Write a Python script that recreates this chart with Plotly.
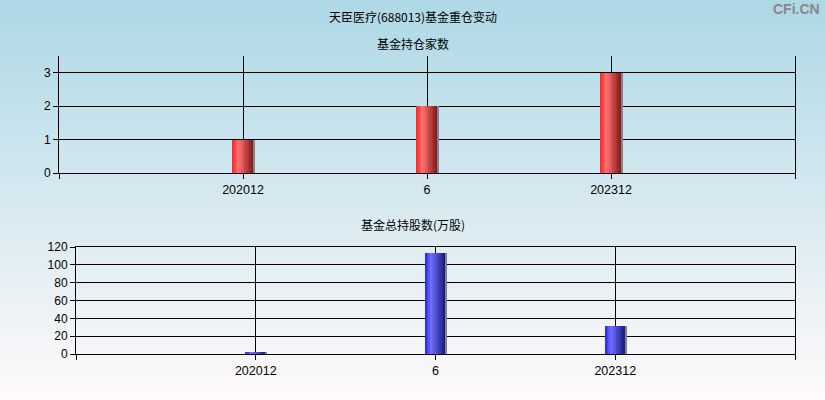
import zlib, struct, base64
import plotly.graph_objects as go

# ---- data ----
categories = ["202012", "6", "202312"]
fund_count = [1, 2, 3]
fund_shares = [1.5, 113, 31]

title_text = "天臣医疗(688013)基金重仓变动"
sub1_text = "基金持仓家数"
sub2_text = "基金总持股数(万股)"
brand_text = "CFi.CN"

W, H = 825, 400


def png_gradient(h, c_top, c_bot):
    raw = b""
    for i in range(h):
        t = i / (h - 1)
        px = bytes([round(a + (b - a) * t) for a, b in zip(c_top, c_bot)])
        raw += b"\x00" + px * 2

    def chunk(tag, data):
        c = struct.pack(">I", len(data)) + tag + data
        return c + struct.pack(">I", zlib.crc32(tag + data) & 0xFFFFFFFF)

    ihdr = struct.pack(">IIBBBBB", 2, h, 8, 2, 0, 0, 0)
    png = (b"\x89PNG\r\n\x1a\n" + chunk(b"IHDR", ihdr)
           + chunk(b"IDAT", zlib.compress(raw)) + chunk(b"IEND", b""))
    return "data:image/png;base64," + base64.b64encode(png).decode()


def mix(a, b, t):
    return tuple(round(x + (y - x) * t) for x, y in zip(a, b))


def grad_color(t, c0, c1, c2, peak=0.3):
    if t <= peak:
        return mix(c0, c1, t / peak)
    return mix(c1, c2, (t - peak) / (1 - peak))


fig = go.Figure()
xs = list(range(len(categories)))
N = 12
BW = 0.11


def add_grad_bars(yvals, xa, ya, c0, c1, c2):
    w = BW / N
    for i in range(N):
        t = (i + 0.5) / N
        col = "rgb(%d,%d,%d)" % grad_color(t, c0, c1, c2)
        fig.add_trace(go.Bar(
            x=xs, y=yvals, xaxis=xa, yaxis=ya,
            width=w * 1.15, offset=-BW / 2 + i * w,
            marker=dict(color=col, line=dict(width=0)),
            showlegend=False, hoverinfo="skip"))
    # thin shadow on right edge
    fig.add_trace(go.Bar(
        x=xs, y=yvals, xaxis=xa, yaxis=ya,
        width=0.006, offset=BW / 2,
        marker=dict(color="rgb(130,130,140)", line=dict(width=0)),
        showlegend=False, hoverinfo="skip"))


add_grad_bars(fund_count, "x", "y", (255, 35, 35), (255, 112, 112), (130, 25, 25))
add_grad_bars(fund_shares, "x2", "y2", (35, 35, 255), (112, 112, 255), (25, 25, 125))

tickfont = dict(family="Liberation Sans, Arial, sans-serif", size=12.5, color="#000")
xtickvals = [-1] + xs + [len(categories)]
xticktext = [""] + categories + [""]

common_x = dict(range=[-1, len(categories)], tickvals=xtickvals, ticktext=xticktext,
                showgrid=True, gridcolor="#000", gridwidth=1,
                showline=True, linecolor="#000", linewidth=1,
                ticks="outside", ticklen=5, tickcolor="#000", automargin=False,
                tickfont=tickfont, zeroline=False, fixedrange=True)
common_y = dict(showgrid=True, gridcolor="#000", gridwidth=1,
                showline=True, linecolor="#000", linewidth=1, mirror=True,
                ticks="outside", ticklen=5, tickcolor="#000", automargin=False,
                tickfont=dict(family="Liberation Sans, Arial, sans-serif", size=12, color="#000"),
                zeroline=False, fixedrange=True)

fig.update_layout(
    width=W, height=H,
    margin=dict(l=0, r=0, t=0, b=0, pad=0, autoexpand=False),
    paper_bgcolor="rgba(0,0,0,0)", plot_bgcolor="rgba(0,0,0,0)",
    barmode="overlay", bargap=0,
    showlegend=False,
    xaxis=dict(domain=[59 / W, 795 / W], anchor="y", **common_x),
    yaxis=dict(domain=[(H - 173) / H, (H - 56) / H], anchor="x",
               range=[0, 3.5], tickvals=[0, 1, 2, 3], **common_y),
    xaxis2=dict(domain=[76 / W, 795 / W], anchor="y2", mirror=True, **common_x),
    yaxis2=dict(domain=[(H - 354) / H, (H - 247) / H], anchor="x2",
                range=[0, 120], dtick=20, **common_y),
    images=[dict(source=png_gradient(400, (173, 216, 230), (255, 250, 250)),
                 xref="paper", yref="paper", x=0, y=1, sizex=1, sizey=1,
                 xanchor="left", yanchor="top", sizing="stretch", layer="below")],
)

cjk = "Noto Sans CJK SC, sans-serif"
fig.add_annotation(text=title_text, xref="paper", yref="paper", x=0.5, y=1 - 17 / H,
                   xanchor="center", yanchor="middle", showarrow=False,
                   font=dict(family=cjk, size=12, color="#000"))
fig.add_annotation(text=sub1_text, xref="paper", yref="paper", x=0.5, y=1 - 43 / H,
                   xanchor="center", yanchor="middle", showarrow=False,
                   font=dict(family=cjk, size=12, color="#000"))
fig.add_annotation(text=sub2_text, xref="paper", yref="paper", x=0.5, y=1 - 224 / H,
                   xanchor="center", yanchor="middle", showarrow=False,
                   font=dict(family=cjk, size=12, color="#000"))
fig.add_annotation(text="<b>" + brand_text + "</b>", xref="paper", yref="paper",
                   x=822 / W, y=1 - 9 / H, xanchor="right", yanchor="middle", showarrow=False,
                   font=dict(family="Liberation Sans, Arial, sans-serif", size=14, color="#888"))

fig.write_html("out.html", config={"displayModeBar": False},
               post_script="document.body.style.margin='0';document.body.style.overflow='hidden';")
